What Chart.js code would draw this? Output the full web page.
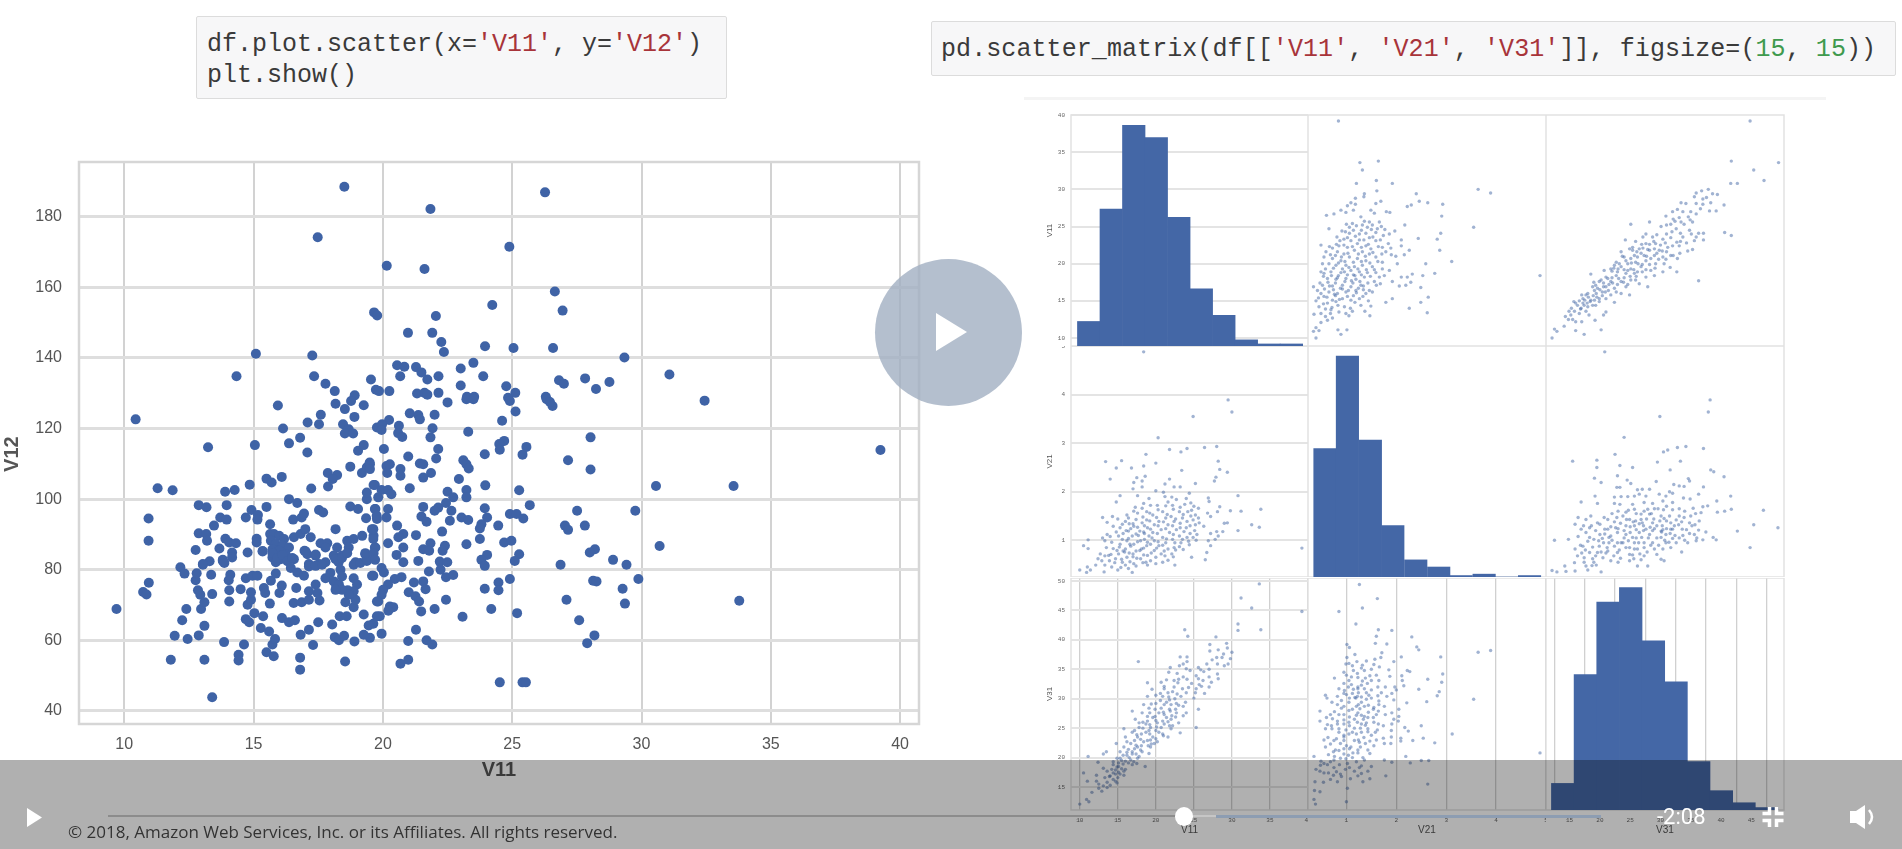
<!DOCTYPE html>
<html><head><meta charset="utf-8">
<script src="https://cdn.jsdelivr.net/npm/chart.js@4"></script>
<style>
html,body{margin:0;padding:0;background:#fff;width:1902px;height:849px;overflow:hidden}
#stage{position:absolute;left:0;top:0;width:1902px;height:849px;filter:blur(.6px)}
canvas{position:absolute;display:block}
.code{position:absolute;box-sizing:border-box;background:#f7f7f8;border:1px solid #dcdcdc;border-radius:2px;font-family:"Liberation Mono",monospace;font-size:25px;line-height:31px;color:#3a3a3a;white-space:pre}
.s{color:#a8343a}.n{color:#3f9a4e}
#rule{position:absolute;left:1024px;top:97px;width:802px;height:3px;background:#f4f4f4}
#play{position:absolute;left:875px;top:259px;width:147px;height:147px;border-radius:50%;background:rgba(161,175,194,.8)}
#band{position:absolute;left:0;top:760px;width:1902px;height:89px;background:rgba(0,0,0,.31)}
.line{position:absolute}
#copy{position:absolute;left:68px;top:820px;font:17px "Open Sans",sans-serif;color:#333;white-space:nowrap}
#time{position:absolute;left:1657px;top:804px;font:400 22px Roboto,sans-serif;color:#fff}
svg{position:absolute;overflow:visible}
</style></head><body>
<div id="stage">
<div class="code" style="left:196px;top:16px;width:531px;height:83px;padding:12px 0 0 10px">df.plot.scatter(x=<span class="s">'V11'</span>, y=<span class="s">'V12'</span>)
plt.show()</div>
<div class="code" style="left:931px;top:21px;width:965px;height:55px;padding:12px 0 0 9px;letter-spacing:.08px">pd.scatter_matrix(df[[<span class="s">'V11'</span>, <span class="s">'V21'</span>, <span class="s">'V31'</span>]], figsize=(<span class="n">15</span>, <span class="n">15</span>))</div>
<div id="rule"></div>
<div id="charts"></div>
<div id="play"></div>
<svg style="left:0;top:0" width="1902" height="849"><polygon points="936,313 967,332 936,351" fill="#fff"/></svg>
<div id="band"></div>
<svg style="left:0;top:0" width="1902" height="849">
<polygon points="27,808 42,817.5 27,827" fill="#fff"/>
<polygon points="1850,811 1856,811 1865,805 1865,829 1856,823 1850,823" fill="#fff"/>
<path d="M1869,810 q6,7 0,14" stroke="#fff" stroke-width="2.5" fill="none"/>
<g stroke="#fff" stroke-width="3.5" fill="none"><path d="M1769.5,807 v6.5 h-7"/><path d="M1776.5,807 v6.5 h7"/><path d="M1769.5,827 v-6.5 h-7"/><path d="M1776.5,827 v-6.5 h7"/></g>
</svg>
<div class="line" style="left:108px;top:815px;width:1070px;height:2px;background:#8c8c8c"></div>
<div class="line" style="left:1190px;top:815px;width:26px;height:2px;background:#c6c6c6"></div>
<div class="line" style="left:1216px;top:815px;width:385px;height:3px;background:#8d9db2"></div>
<div class="line" style="left:1175px;top:807px;width:18px;height:19px;border-radius:50%;background:#fff"></div>
<div id="copy">© 2018, Amazon Web Services, Inc. or its Affiliates. All rights reserved.</div>
<div id="time">-2:08</div>
</div>
<script>
// ---------- values ----------
const mainXTicks=[10,15,20,25,30,35,40];
const mainYTicks=[40,60,80,100,120,140,160,180];
const v11Ticks=[10,15,20,25,30,35,40];
const v21Ticks=[1,2,3,4,5];
const v31Ticks=[15,20,25,30,35,40,45,50];
const v31XTicks=[15,20,25,30,35,40,45];

const scatterV11V12=[
[18.51,188.5],[26.27,186.9],[21.84,182.2],[17.48,174.2],[24.89,171.5],[20.15,166.1],[21.61,165.2],[26.65,158.8],[26.95,153.4],[24.23,155],[19.66,152.9],[19.78,152],[22.05,151.9],[20.97,147.1],[21.91,147.1],[22.26,144.5],[22.36,141.7],[23.95,143.3],[25.05,142.8],[26.58,142.8],[15.09,141.2],[17.27,140.7],[29.34,140.1],[23.5,138.6],[23.01,137],[20.55,137.9],[20.83,137.5],[21.28,137.4],[21.49,135.9],[22.15,134.8],[21.72,133.9],[20.67,134.8],[14.34,134.8],[17.34,134.8],[17.78,132.7],[18.14,130.6],[19.54,133.9],[19.73,131],[19.85,130.6],[20.25,130.6],[23.88,134.8],[26.81,133.7],[27,132.7],[27.82,134.2],[28.76,133.2],[28.24,131.2],[31.08,135.3],[32.44,127.9],[24.77,132],[23.01,132.2],[25.12,130.1],[24.84,128.7],[22.15,130.1],[21.32,129.9],[21.61,130.1],[21.72,129.6],[23.25,129],[23.53,129],[26.3,129],[18.91,129.4],
[10.44,122.6],[15.94,126.5],[13.24,114.7],[15.05,115.3],[16.14,120],[17.09,121.7],[17.53,121.2],[17.6,123.9],[18.17,127],[18.53,125.5],[18.77,127.8],[19.26,126.6],[18.9,123.3],[18.46,121.2],[18.68,119.8],[18.53,118.6],[18.85,118.6],[19.77,120.3],[16.8,117.4],[16.37,115.8],[17.08,113.2],[19.04,113.7],[19.26,115.3],[18.74,109.2],[17.87,107.4],[18.23,106.8],[18.06,105.7],[17.88,103.6],[19.19,107.4],[19.38,109],[19.49,110.4],[17.23,103],[16.09,106.3],[15.5,105.8],[15.7,104.7],[14.85,104.1],[14.27,102.6],[13.9,102.1],[11.29,103.1],[11.87,102.5],[12.88,98.3],[13.18,97.7],[13.96,98.3],[10.94,94.5],[10.94,88.2],[16.37,100],[16.69,98.9],[15.5,97.8],[14.92,96.9],[14.7,94.8],[15.17,95.5],[15.15,94.2],[13.71,94.8],[13.96,94.2],[13.47,92.5],[12.88,90.3],[13.17,90.1],[13.2,88.2],[13.91,88.8],[14.06,87.7],[14.32,87.5],[13.68,86],[12.76,85.6],[14.17,84.9],[14.17,83.5],[14.77,84.9],[13.81,82.5],[13.3,82.4],[13.04,81.6],[15.64,92.9],[15.12,88.8],[15.12,87.7],[15.35,85.3],[15.64,90.1],
[15.79,90.1],[15.99,89.6],[16.18,88.7],[15.67,88.2],[15.86,87.3],[16.12,86.8],[16.37,86.3],[15.73,85.8],[15.99,85.4],[16.24,84.4],[15.73,83.5],[16.05,83],[16.56,83],[15.86,82.1],[18.29,82.1],[19.38,82.5],[18.94,82.1],[19.71,86.3],
[16.53,94.2],[16.86,94.8],[16.95,95.9],[17.53,96.9],[17.69,96.2],[18.17,91.5],[18.74,97.9],[19.04,97.2],[19.35,94.6],[19.38,100],[19.38,101.9],[19.64,104],[19.71,97.2],[19.58,91.5],[19.77,94.4],[16.56,89.2],[16.82,90.1],[17,91.5],[17.21,89.2],[17.59,87.5],[17.85,87.5],[17.78,86.3],[16.97,85.4],[17.08,84.4],[17.4,84],[17.53,81.6],[17.14,81.6],[17.78,82.1],[18.23,86.3],[18.1,84],[18.42,84],[18.62,88.2],[18.87,88.7],[19.2,89.6],[18.68,86.3],[19.32,84.4],[19.64,89.6],
[22.5,127.4],[23.23,128.3],[23.5,128.3],[24.91,127.8],[25.13,124.8],[26.33,128.3],[26.56,126.4],[26.46,127.5],[21.04,124.3],[21.37,123.8],[21.43,122.6],[22,123.9],[24.61,122.2],[20.24,122.4],[19.97,121.2],[19.95,119.6],[20.62,120.8],[20.59,118.7],[20.75,117.6],[21.92,120.1],[21.84,117.5],[23.3,119.1],[28.03,117.5],[24.69,116.5],[24.5,115.6],[24.52,114],[25.55,114.8],[25.4,112.6],[23.94,112.7],[22.14,114.2],[22.06,111.5],[20.04,114.2],[20.98,112.1],[21.43,110.1],[21.56,109.9],[23.11,111],[23.23,109.9],[23.32,108.7],[27.16,111],[28.03,108.4],[20.14,109.4],[20.27,109.9],[20.17,107.4],[20.68,108.5],[20.68,106.6],[19.5,109.9],[19.5,108.5],[21.86,107.4],[21.56,106.1],[22.94,105.7],[23.96,103.9],[21.04,103.1],[25.27,102.5],[19.69,104],[19.95,102.6],[20.2,102.6],[20.33,101.4],[19.82,100.5],[22.5,102.1],[22.72,100.5],[23.23,102.6],[23.23,100.5],[25.68,98.3],[22.44,98.9],[22.14,97.6],[22,96.7],[21.56,97.8],[21.49,95.1],[21.69,93.6],[22.65,96.7],[22.59,93.9],[23.94,97.4],[24.03,94.8],[23.81,92.9],[23.75,91.7],[23.04,94.8],[23.3,94.1],[24.91,95.8],[25.17,95.8],[25.43,94.5],[24.46,92.5],[27.51,96.7],[29.76,96.7],[27.04,92.5],[27.16,91.3],[27.81,92.5],[22.29,90.8],[21.28,89.8],[20.55,92.5],[23.75,88.7],[24.69,87.7],[24.97,88.2],[23.23,87.2],[20.2,97.2],[19.69,97.2],[19.76,95.3],[20.14,94.8],[19.63,91.5],[19.63,88.7],[19.69,86.3],[20.79,90.1],[20.6,89.2],[20.2,87.5],[20.79,86.3],[20.53,84.2],[20.79,82.1],[21.37,82.5],[21.56,85.8],[21.84,87.5],[21.79,85.4],[22.4,86.8],[22.31,85.4],[22.2,82.3],[22.49,82.1],[24.03,84.2],[23.81,82.8],[23.94,81.1],[25.27,84.4],[25.1,82.5],[28.2,85.8],[28,84.9],[28.9,82.8],[29.42,81.4],[26.87,81.4],
[30.56,103.7],[33.56,103.7],[39.24,113.9],[30.7,86.7],[33.78,71.2],
[19.95,80.5],[20.04,79.2],[19.63,78.3],[21.78,79.5],[20.72,77.9],[20.46,77.4],[20.2,75.8],[20.01,74.3],[19.95,72.9],[19.82,71],[21.2,76.4],[21.56,76.7],[21.65,74.5],[21,73.6],[21.26,72.5],[21.4,71],[22.44,71.5],[22.44,77.9],[22.72,78.5],[22.23,80],[23.94,74.6],[24.47,76.4],[24.47,74.2],[24.91,77.4],[28.13,76.9],[28.26,76.7],[29.88,77.4],[29.27,74.6],[29.36,70.4],[27.1,71.5],[27.59,65.7],[28.18,61.4],[27.9,59.2],[24.52,48.1],[25.4,48.1],[25.53,48.1],[24.19,68.9],[25.19,67.7],[23.08,66.7],[22,68.9],[21.48,68.2],[20.27,69.6],[20.4,69.4],[20.21,68.4],[19.88,66.8],[19.63,64.7],[19.95,61.9],[21.28,63],[20.98,59.8],[21.69,60],[21.91,58.8],[20.98,54.5],[20.68,53.4],[19.5,60.7],
[9.7,68.9],[10.95,76.3],[10.73,73.7],[10.86,73],[12.17,80.7],[12.33,78.9],[12.4,68.9],[12.24,65.7],[11.95,61.3],[12.45,60.4],[12.88,61.4],[13.1,64.1],[11.8,54.5],[13.1,54.5],[13.4,43.9],[13.86,59.5],[14.63,58.8],[14.42,55.9],[14.42,54.3],[15.5,56.6],[15.78,55.5],[16.8,55.1],[16.8,51.7],[18.54,54],[17.3,58.7],[18.9,59.7],[15.73,58.8],[15.83,60.4],[15.6,62.5],[15.28,63.5],[14.83,65.1],[14.7,66],[15.03,67.7],[15.37,66.8],[14.77,70.1],[14.9,71.5],[14.9,73.6],[14.06,71],[14.06,74.2],[14.5,74.5],[12.97,68.9],[13.1,70.8],[12.94,72.9],[12.85,74.2],[13.4,73.1],[12.76,77],[12.8,79],[13.36,78.6],[14.1,78.6],[14.04,77],[14.7,77.6],[14.96,78.3],[15.15,78.3],[15.67,76.9],[15.86,78.9],[15.4,74.8],[15.45,73.4],[16.09,75.5],[16,73.4],[15.63,70.4],[16.65,74.8],[16.55,70.6],[16.86,70.8],[17.14,71.5],[17.55,71.3],[17.14,73.9],[17.4,75.8],[17.47,73.4],[16.1,66.3],[16.37,65.1],[16.6,65.7],[17.5,65.1],[17.14,63],[16.82,61.6],[18.04,64.5],[18.33,66.8],[18.6,66.8],[18.14,60.9],[18.3,60],[18.5,61.3],[19.26,67.3],[19.45,64.2],[19.26,61.6],[19.77,66.8],[18.87,69.4],[18.55,70.8],[18.94,71.5],[18.2,75.3],[18.64,74.2],
[15.35,85.2],[15.73,84.7],[15.92,83.3],[16.12,84.2],[16.31,82.4],[16.5,83.3],[16.44,80.5],[16.69,79.2],[16.95,78.3],[17.14,80.9],[17.4,81.1],[17.65,81.4],[17.01,85.2],[17.4,84.3],[17.78,77.6],[17.97,79.1],[18.17,83],[18.42,83.3],[18.62,84.7],[18.36,80],[18.1,76.7],[18.3,75.8],[18.42,78.1],[18.87,81.4],[19.13,81.9],[19.38,82.8],[19.32,84.7],[19.64,84.7],[19.7,82.8],[19.58,78.3],[18.87,77.6],[19,75.8],[18.87,73.9],[18.68,72.9],[18.42,74.3],[18.17,74.3],[19.77,71],[13.81,82.8],[13.87,81.9],[13.04,81.4]
];

const scatterV21V11=[
[.84,39.2],[1.27,33.6],[1.64,33.8],[1.32,32.6],[1.2,30.8],[1.6,31.2],[1.92,30.8],[1.61,29.8],[1.36,29.4],[1.35,29],[1.18,28.8],[2.4,29.4],[3.64,30],[3.89,29.5],[1.09,28.2],[1.02,27.8],[1.18,28],[1.59,28.1],[1.69,28.4],[2.46,28.4],[2.63,28.2],[2.93,28],[2.22,27.7],[2.3,27.9],[.89,27.2],[.99,26.9],[1.14,27.2],[1.49,27.2],[1.56,26.8],[1.8,27],[1.87,26.9],[.6,26.5],[.75,26.7],[2.91,26.4],[1.29,26.3],[.65,24.7],[1,25.3],[1.06,24.9],[1.2,25.1],[1.32,25.2],[1.46,25.6],[1.42,24.9],[1.66,25.6],[2.17,25.2],[3.55,24.9],[.91,24.4],[1.06,24.1],[1.26,24],[1.39,24.1],[1.59,24.2],[1.77,24.6],[1.97,24.4],[1.86,24],[1.74,23.8],[2.89,24.1],[.81,23.6],[.95,23.3],[1.09,23.1],[1.26,23.2],[1.46,23.5],[1.59,23.1],[2.1,23.2],[2.44,23.4],[2.82,23.3],[.49,22.5],[.72,22.1],[.85,22.4],[1.02,22.2],[1.22,22.7],[1.39,22.4],[1.49,22],[1.64,22.3],[1.84,22.7],[1.89,22.1],[2.1,22.4],[2.26,21.8],[2.87,21.8],[.59,21.6],[.82,21.6],[.95,21.3],[1.16,21.8],[1.32,21.6],[1.46,21.3],[1.79,21.6],[1.99,21],[2.16,21.2],[1.59,20.9],[.55,20.9],[.72,20.7],[.89,20.4],[1.06,20.9],[1.22,20.7],[1.39,20.4],[3.11,20.3],[2.59,20],[1.72,20.2],[2.02,20],[.52,20],[.79,19.8],[.99,19.8],[1.16,19.6],[1.32,19.8],[1.52,19.6],[1.86,19.1],[.49,18.9],[.69,18.9],[.89,18.8],[1.09,19.1],[1.26,18.9],[1.42,18.8],[1.59,18.8],[1.76,18.4],[2.32,18.6],[2.53,18.4],[2.77,18.7],[4.88,18.4],[2.1,18.2],[.62,18],[.79,17.9],[.99,18],[1.19,17.9],[1.36,18.2],[1.56,17.6],[1.92,17.6],[2.22,18.2],[2.29,17.5],[2.19,17.1],[2.06,17],[1.68,17.3],[.34,16.9],[.52,17.1],[.72,17],[.92,17.1],[1.09,16.9],[1.29,17.1],[2.49,16.8],[.49,16],[.65,16.2],[.82,16],[.99,16.2],[1.19,16.4],[1.39,16],[1.46,16.4],[.55,15.6],[.72,15.1],[.92,15.3],[1.09,15.1],[1.26,15.3],[1.44,15],[1.92,15.3],[2.64,15.5],[.39,15],[.62,14.7],[.79,14.9],[2.49,14.8],[1.79,14.8],[1.29,14.4],[1.49,14.3],[.69,13.8],[.49,13.3],[.35,13.2],[2.26,14],[1.37,13.6],[1.47,13],[.99,13.3],[1.05,13],[2.62,13.4],[.62,12.4],[.49,12.1],[.39,11.4],[.34,10.9],[.45,11],[.83,11.1],[1.01,11.1],[.89,10.5],[.39,10],
[.45,14.2],[.58,13.9],[.71,14.1],[.83,14.4],[.96,14.2],[1.08,14],[1.17,14.8],[.44,15.4],[.61,15.5],[.78,15.7],[.86,15.2],[1.02,15.6],[1.14,15.7],[1.33,15.6],[.42,16.4],[.56,16.6],[.74,16.5],[.88,16.7],[1.04,16.4],[1.24,16.7],[1.34,16.5],[1.52,16.2],[.47,17.4],[.63,17.5],[.78,17.4],[.97,17.6],[1.13,17.4],[1.27,17.6],[1.43,17.4],[1.6,17.1],[.54,18.3],[.7,18.4],[.84,18.4],[1.02,18.5],[1.17,18.4],[1.3,18.5],[1.48,18.3],[1.66,18.2],[.58,19.3],[.74,19.4],[.92,19.3],[1.05,19.5],[1.23,19.3],[1.4,19.2],[1.56,19.2],[1.72,19.3],[.65,20],[.84,20.1],[.97,20.3],[1.14,20.2],[1.3,20.3],[1.47,20.1],[1.63,20.3],[.68,21.2],[.78,21.1],[.9,20.9],[1.03,21.4],[1.24,21.3],[1.38,21],[1.53,21.5],[1.71,21.3],[1.9,21.2],[.66,22.3],[.8,22.6],[.95,22.5],[1.12,22.3],[1.3,22.2],[1.44,22.6],[1.72,22.2],[.87,23.1],[1.02,23.5],[1.18,23.7],[1.35,23.2],[1.53,23.6],[1.68,23.2],[.98,24.3],[1.14,24.5],[1.3,24.5],[1.5,24.6],[1.62,24.7],[1.12,25.4],[1.36,25.7],[1.7,25],[1.52,25.2],[.54,14.6],[.68,13.3],[.85,13.5],[1.12,13.6],[.58,12.9],[.72,12.7],[.55,18.7],[.66,17],[.82,18.1],[1.1,17.7],[1.2,16.1],[.92,16.6],[.76,15.9],[.96,18.9],[1.14,18.5],[1.34,17]
];

const scatterV31V11=[
[44.8,39.2],[41.7,33.8],[49.5,33.6],[45.4,32.6],[47.1,31.2],[41.6,30.8],[42.7,30.8],[37.9,30],[36.8,29.8],[35.9,29.5],[38.6,29.4],[39.4,29.3],[35.6,29],[37,28.7],[38.3,28.2],[33.4,28.2],[34.2,28.1],[40.5,27.9],[37,28],[39.2,27.1],[32.8,27.3],[33.7,27],[35.9,26.7],[32,27],[30.9,26.4],[33.1,26.2],[28.2,25.6],[25.1,25.3],[35.3,25.6],[33.9,25.3],[31.7,25.3],[30.1,25],[32.6,24.7],[27.6,24],[34.8,24.5],[36.3,24.1],[37.1,24.1],[40.6,24.2],[41.7,23.8],[24.2,23.2],[25.9,23],[27.1,23.6],[28.7,23.6],[30.4,23.3],[31.7,23.5],[33.7,23.6],[35.6,23.1],[37.1,23.2],[27.6,22.7],[29.2,22.7],[31.2,22.2],[32,22.4],[33.1,22.4],[24.9,22],[26.5,22],[28.2,21.8],[29.8,21.8],[23.5,21.6],[34.5,21.7],[35.3,21.9],[25.7,21.1],[27.3,21.1],[29,21.1],[30.4,20.9],[31.7,21.1],[32.8,20.7],[22.7,20.2],[24.3,20.4],[25.9,20.2],[27.6,20.4],[29.2,20],[30.6,20],[31.6,19.5],[21.8,19.3],[23.5,19.6],[25.1,19.3],[26.8,19.6],[28.4,19.1],[30.4,18.9],[32.7,18.9],[18.5,18.6],[21,18.2],[22.7,18.4],[24.3,18.7],[25.7,18.7],[27.6,18.2],[29,18.4],[36.3,17.7],[19,17.5],[20.2,17.8],[21.8,17.6],[23.5,17.6],[25.1,17.8],[26.5,17.3],[27.9,16.9],[19.6,16.7],[21,16.9],[22.4,16.7],[24.3,16.9],[18,16],[19.4,16],[20.4,16.2],[21.8,15.8],[23.5,16],[24.9,15.8],[17.2,15.3],[18.5,15.1],[19.9,15.3],[21,15.3],[22.4,14.8],[16,14.7],[17.4,14.4],[18.8,14.4],[19.9,14.9],[15.8,13.6],[16.6,13.3],[18.2,13.1],[21,13.5],[20.6,13.1],[15.5,12.5],[17,12.2],[19.2,12.4],[14.8,12.5],[14.1,11.6],[12.5,11.2],[12.9,10.9],[16,11],[17.4,10.5],[20.2,11.1],[12.1,10],[16.3,14.4],[17.7,15.8],[18.8,16.9],[19.9,17.6],[20.7,19.1],[22.4,19.8],[24,20.9],[25.4,21.8],[22.9,18.9],[25.9,17.8],
[14.9,13.6],[15.3,14],[16.8,13.9],[17.2,14.7],[17.9,14.7],[18.4,14.9],[19.1,15.1],[16.6,15],[17.5,15.1],[18.1,15.5],[18.9,15.7],[19.5,15.5],[20.4,15.7],[20.6,16.9],[19.1,16.4],[20,16.5],[20.9,16.2],[21.4,16.4],[22.7,16.2],[21.5,17.2],[20.6,17.4],[19.3,17.1],[22.1,17.4],[22.9,17.2],[23.9,17.5],[24.6,17.2],[21.3,18],[22,18.1],[23.1,18],[24,18.1],[25,18.3],[26,18.3],[22,19],[23,19.3],[24,19.2],[24.6,19.1],[25.6,19.2],[26.2,18.9],[27,18.9],[27.6,19.2],[22.3,19.4],[23.2,20],[24.6,20],[25.2,20.1],[26.3,20],[27,19.9],[28.2,19.9],[29.1,19.4],[23.7,21],[25.1,20.7],[26.2,20.9],[26.8,21.4],[27.7,21],[28.4,20.7],[29.7,20.6],[30.9,20.6],[25.4,22.2],[26.1,21.6],[27.1,22.1],[27.9,21.9],[29,22],[29.4,21.4],[30.3,21.7],[31,21.6],[32.1,21.1],[33.2,21.4],[26.9,22.6],[28.2,22.6],[28.9,23],[30,22.5],[30.8,22.8],[32.7,22.9],[33.3,23],[34.3,22.8],[29.4,23.9],[31,24],[31.9,24.3],[33.3,24.1],[35.1,24],[35.9,23.6],[31,25.2],[32.4,25.7],[33.4,25.6],[34.9,25.9],[32.1,26],[34.6,26.3],[35,27],[36.6,27.4],[35.9,28.1],[38.1,27.1],[37.6,28.9],[16.9,14],[15.2,13.1],[17.7,13.6],[19.3,14.4],[18,14.2],[14.3,12.9],[16,12.2],[15.7,14.9],[17,15.8]
];

const scatterV31V21=[
[20.8,4.88],[38.2,3.89],[37.9,3.64],[29.9,3.55],[24,3.12],[32.8,2.91],[34.2,2.93],[37.1,2.89],[30.5,2.82],[31.2,2.86],[22.5,2.77],[15.5,2.63],[19.5,2.65],[29.5,2.61],[33.3,2.63],[19.5,2.5],[23.3,2.54],[25.4,2.5],[31.6,2.45],[38.3,2.45],[38.8,2.41],[22.9,2.33],[40.5,2.31],[19.1,2.28],[20.2,2.19],[24.5,2.24],[25.1,2.17],[29.3,2.21],[34.6,2.27],[34.8,2.22],[32.2,2.15],[33.1,2.12],[33.9,2.11],[37.1,2.1],[22.8,2.09],[23.3,2.09],[26.2,2.04],[27,2.05],[28.2,2.05],[29.8,1.95],[31.5,2],[30.9,1.91],[32,1.97],[36.3,1.95],[41.6,1.91],[19.2,1.91],[22.4,1.89],[23.5,1.9],[24.6,1.9],[25.7,1.91],[26.5,1.95],[27.6,1.91],[33.8,1.87],[34.9,1.85],[16.9,1.79],[19.6,1.76],[22.4,1.76],[23.3,1.74],[25.4,1.74],[27.3,1.78],[28.7,1.76],[30.4,1.81],[32,1.78],[35.4,1.66],[37,1.69],[37.8,1.71],[39.3,1.81],[47,1.62],[41.7,1.64],[40.6,1.6],[39.4,1.58],[25.7,1.64],[27.9,1.64],[29,1.65],[32,1.63],[33.1,1.65],[24.3,1.58],[26.8,1.54],[28.2,1.54],[30.1,1.5],[30.6,1.45],[33.1,1.5],[33.9,1.47],[36.7,1.57],[18.5,1.5],[17.7,1.43],[16.4,1.47],[20.7,1.47],[21.3,1.43],[22.8,1.47],[23.8,1.5],[24.9,1.43],[25.9,1.4],[27,1.36],[28.7,1.36],[31.7,1.36],[34.8,1.36],[15.9,1.33],[19.6,1.36],[24.3,1.3],[25.7,1.3],[30.3,1.3],[32.3,1.3],[18.3,1.26],[21.3,1.23],[22.6,1.26],[27.6,1.23],[29,1.24],[30.1,1.19],[31.7,1.23],[33.6,1.23],[36.3,1.21],[37.5,1.17],[42.7,1.19],[45.4,1.32],[49.4,1.26],[17.7,1.16],[22.9,1.16],[24.3,1.12],[26.5,1.16],[28.2,1.12],[30.9,1.12],[35.6,1.12],[16.4,1.08],[18.3,1.06],[20.4,1.04],[21.8,1.09],[25.4,1.06],[30.1,1.06],[32,1.04],[35.9,.99],[37,1.01],[38.7,1.06],[39.2,1.01],[12.5,1],[14.8,1.02],[21.5,.95],[23.5,.95],[25.7,.95],[27.3,.95],[28.7,.95],[30.9,.95],[34.5,.95],[17.2,.88],[19.9,.88],[22.4,.88],[24.3,.85],[26.2,.82],[31.7,.85],[44.8,.85],[15.9,.82],[18.3,.75],[19.6,.75],[21.3,.78],[22.9,.75],[24.9,.71],[27.3,.68],[29.4,.71],[33.5,.76],[16.3,.68],[17.4,.64],[20.5,.64],[21.8,.58],[24.9,.58],[30.1,.61],[30.6,.58],[15.8,.54],[17.7,.47],[19.4,.49],[26.2,.47],[27.9,.47],[14.2,.47],[12.1,.38],[12.9,.35],[14.4,.36],[15.9,.37],[18,.39],[20.2,.35],
[17,.74],[18,.98],[18.8,.86],[19,1.02],[19.8,.99],[20.6,.95],[21,.74],[21.2,.85],[16.8,.9],[17.6,.8],[18.8,.62],[19.3,.68],[20.2,.76],[20,1.12],[20.8,1.13],[21.5,1.06],[22,1],[22.3,.68],[22.9,.95],[23.2,.8],[23.4,.63],[23.8,.95],[24,1.05],[24.7,.99],[24.9,.85],[25,1.16],[25.4,.7],[25.7,.82],[26,1.05],[26.4,.95],[26.6,.72],[26.9,1.06],[27.2,1.2],[27.3,.85],[27.8,.76],[28,1.05],[28.4,.9],[28.7,1.2],[29,.82],[29.4,1.05],[29.7,.9],[30.2,1.17],[30.4,.82],[30.7,1],[31,1.24],[31.4,.96],[31.6,1.14],[32,1.23],[32.4,1.1],[32.6,.95],[33,1.32],[33.1,1.05],[33.7,1.1],[34,1],[34.3,1.22],[34.8,1.14],[35.2,1.3],[35.7,1.32],[36,1.05],[36.4,1.4],[21.8,1.28],[22.4,1.38],[23,1.24],[23.4,1.35],[24,1.2],[24.4,1.43],[25,1.28],[25.5,1.38],[26,1.22],[26.5,1.34],[26.8,1.43],[27.2,1.3],[27.7,1.44],[28.3,1.27],[28.9,1.44],[29.4,1.3],[29.9,1.4],[30.4,1.22],[31,1.4],[31.5,1.5],[32.6,1.42],[33.5,1.38],[34,1.6],[35,1.5],[35.8,1.55],[18.6,1.3],[19.3,1.2],[20,1.33],[20.8,1.23],[22,1.55],[23,1.6],[24.7,1.62],[26,1.55],[27.3,1.6],[28.5,1.55],[29.6,1.65],[30.5,1.63],[31,1.7],[16.9,1.23],[17.3,1.3],[18.7,.48],[19,.55],[23,.55],[25.6,.62],[26.8,.6],[17.4,.55]
];

const v11Bins=[11.18,14.14,17.1,20.06,23.02,25.98,28.94,31.9,34.86,37.82];
const v11Counts=[12,67,108,102,63,28,15,3,1,1];
const v21Bins=[.57,1.02,1.48,1.93,2.39,2.85,3.3,3.76,4.21,4.67];
const v21Counts=[90,155,96,36,12,7,1,2,0,1];
const v31Bins=[13.87,17.61,21.35,25.09,28.83,32.57,36.31,40.05,43.79,47.53];
const v31Counts=[11,56,86,92,70,53,20,8,3,1];

// ---------- drawing ----------
Chart.defaults.animation=false;
Chart.defaults.responsive=false;
Chart.defaults.devicePixelRatio=1;
Chart.defaults.plugins.legend.display=false;
Chart.defaults.plugins.tooltip.enabled=false;
Chart.defaults.font.family='"Liberation Sans",Arial,sans-serif';

const frame=(color,width)=>({id:'frame',beforeDatasetsDraw(c){const a=c.chartArea,g=c.ctx;g.save();g.strokeStyle=color;g.lineWidth=width;g.strokeRect(a.left,a.top,a.right-a.left,a.bottom-a.top);g.restore();}});
const pair=a=>a.map(p=>({x:p[0],y:p[1]}));
const swap=a=>a.map(p=>({x:p[1],y:p[0]}));
const useTicks=list=>s=>{s.ticks=list.map(value=>({value}));};
const fitBox=(prop,size)=>s=>{s[prop]=size;s.paddingLeft=s.paddingRight=s.paddingTop=s.paddingBottom=0;};

function place(r,m){
  const c=document.createElement('canvas');
  c.width=r.w+m.l+m.r;c.height=r.h+m.t+m.b;
  c.style.left=(r.x-m.l)+'px';c.style.top=(r.y-m.t)+'px';
  document.getElementById('charts').appendChild(c);
  return c;
}

// main scatter: V11 against V12
new Chart(place({x:79,y:162,w:840,h:562},{l:79,t:4,r:4,b:58}),{
  type:'scatter',
  data:{datasets:[{data:pair(scatterV11V12),backgroundColor:'#3f63a6',borderWidth:0,pointRadius:5}]},
  options:{
    layout:{autoPadding:false,padding:{top:4,right:4}},
    scales:{
      x:{min:8.25,max:40.73,afterBuildTicks:useTicks(mainXTicks),afterFit:fitBox('height',58),
        grid:{color:'#d2d2d2',lineWidth:2,drawTicks:false},border:{display:false},
        ticks:{color:'#555',font:{size:16},padding:11,autoSkip:false,maxRotation:0},
        title:{display:true,text:'V11',color:'#555',font:{size:20,weight:'600'},padding:0}},
      y:{min:36.3,max:195.5,afterBuildTicks:useTicks(mainYTicks),afterFit:fitBox('width',79),
        grid:{color:'#dedede',lineWidth:3,drawTicks:false},border:{display:false},
        ticks:{color:'#555',font:{size:16},padding:17,autoSkip:false},
        title:{display:true,text:'V12    ',color:'#555',font:{size:20,weight:'600'},padding:0}}
    }
  },
  plugins:[frame('#d6d6d6',2.5)]
});

// scatter matrix
const colX=[1070.5,1308,1546];
const rowY=[115,346,577.7];
const cellW=[237.5,238,238];
const cellH=[231,231.7,232.3];
const names=['V11','V21','V31'];
const ranges=[[8.85,40],[0.23,5],[11.1,50.4]];
const rowTicks=[v11Ticks,v21Ticks,v31Ticks];
const colTicks=[v11Ticks,v21Ticks,v31XTicks];
const histBins=[v11Bins,v21Bins,v31Bins];
const histCounts=[v11Counts,v21Counts,v31Counts];
const histTop=[113,162,96];
const rowYRange=[[8.93,40],[0.245,5],[11.1,50.5]];
const cellData=[
  [null,pair(scatterV21V11),pair(scatterV31V11)],
  [swap(scatterV21V11),null,pair(scatterV31V21)],
  [swap(scatterV31V11),swap(scatterV31V21),null]
];
const tickFont={size:6,family:'"Liberation Mono",monospace'};
for(let r=0;r<3;r++)for(let c=0;c<3;c++){
  const m={l:c===0?26:0,t:r===0?4:0,r:c===2?3:0,b:r===2?26:0};
  const rect={x:colX[c],y:rowY[r],w:cellW[c],h:cellH[r]};
  const isHist=r===c;
  const scales={
    x:{type:'linear',min:ranges[c][0],max:ranges[c][1],offset:false,afterBuildTicks:useTicks(colTicks[c]),afterFit:fitBox('height',m.b),
      grid:{display:r===2,color:'#d0d0d0',lineWidth:1.3,drawTicks:false},border:{display:false},
      ticks:{display:r===2,color:'#666',font:tickFont,padding:7,autoSkip:false,maxRotation:0},
      title:{display:r===2,text:names[c],color:'#555',font:{size:10},padding:0}},
    y:{min:rowYRange[r][0],max:rowYRange[r][1],afterBuildTicks:useTicks(rowTicks[r]),afterFit:fitBox('width',m.l),
      grid:{display:c===0,color:'#e4e4e4',lineWidth:2,drawTicks:false},border:{display:false},
      ticks:{display:c===0,color:'#666',font:tickFont,padding:6,autoSkip:false},
      title:{display:c===0,text:names[r],color:'#555',font:{size:8},padding:0}}
  };
  let cfg;
  if(isHist){
    scales.n={display:false,min:0,max:histTop[r]};
    cfg={type:'bar',data:{datasets:[{yAxisID:'n',data:histBins[r].map((b,i)=>({x:b,y:histCounts[r][i]})),backgroundColor:'#4467a6',borderWidth:0,barPercentage:1,categoryPercentage:1}]}};
  }else{
    cfg={type:'scatter',data:{datasets:[{data:cellData[r][c],backgroundColor:'rgba(68,103,166,.5)',borderWidth:0,pointRadius:1.7}]}};
  }
  cfg.options={layout:{autoPadding:false,padding:{top:m.t,right:m.r}},scales};
  cfg.plugins=[frame('#e2e2e2',1.5)];
  new Chart(place(rect,m),cfg);
}
</script>
</body></html>
